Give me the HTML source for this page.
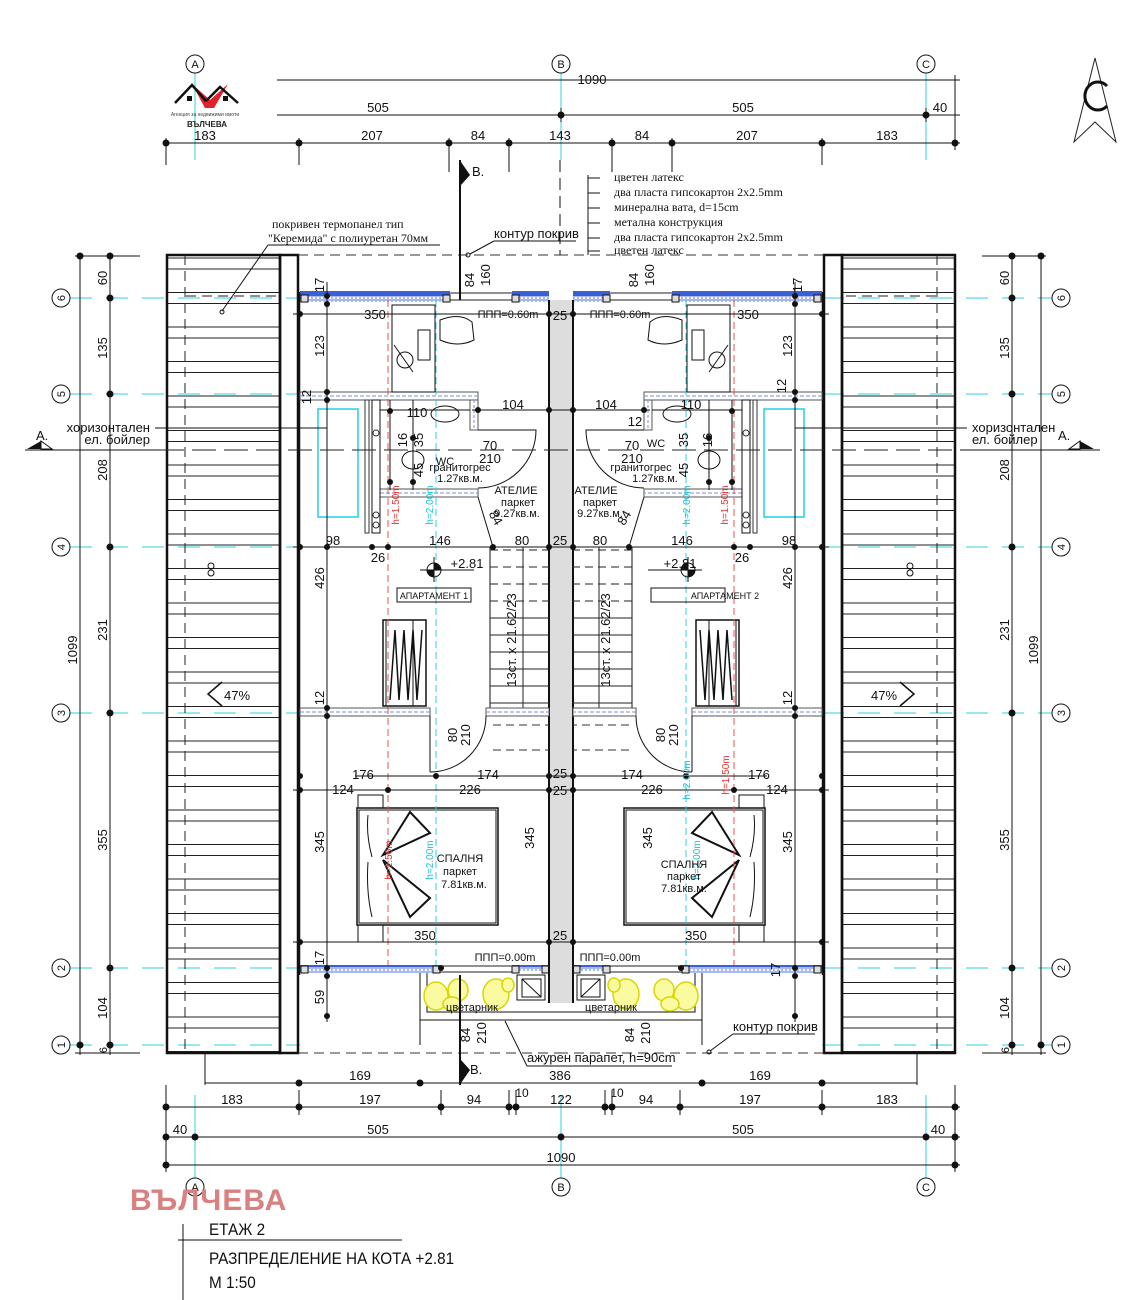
<!DOCTYPE html>
<html><head><meta charset="utf-8"><style>
html,body{margin:0;padding:0;background:#fff;}
svg{display:block;font-family:"Liberation Sans",sans-serif;}
.t{font-size:13px;fill:#111;}
.s{font-size:11px;fill:#111;}
.sr{font-family:"Liberation Serif",serif;font-size:12px;fill:#111;}
</style></head><body>
<svg width="1141" height="1300" viewBox="0 0 1141 1300" xmlns="http://www.w3.org/2000/svg">
<defs>
<pattern id="hatch" patternUnits="userSpaceOnUse" width="200" height="34.5" y="568">
<line x1="0" y1="0.5" x2="200" y2="0.5" stroke="#222" stroke-width="1"/>
<line x1="0" y1="11.5" x2="200" y2="11.5" stroke="#222" stroke-width="1"/>
</pattern>
<pattern id="dots" patternUnits="userSpaceOnUse" width="4" height="4">
<rect width="4" height="4" fill="#aab8f0"/><rect x="1" y="1" width="2" height="2" fill="#fff"/>
</pattern>
<g id="half">
 <rect x="167" y="255" width="113" height="798" fill="url(#hatch)" stroke="#111" stroke-width="2.5"/>
 <line x1="185" y1="255" x2="185" y2="1053" stroke="#222" stroke-dasharray="10,6"/>
 <rect x="280" y="255" width="18" height="798" fill="none" stroke="#111" stroke-width="2.5"/>
 <line x1="186" y1="296" x2="280" y2="296" stroke="#222" stroke-dasharray="10,6"/>
 <line x1="298" y1="255" x2="561" y2="255" stroke="#333" stroke-dasharray="10,6"/>
 <line x1="298" y1="1053" x2="561" y2="1053" stroke="#333" stroke-dasharray="10,6"/>
 <rect x="300" y="291" width="150" height="5" fill="#3b5fd6"/>
 <rect x="300" y="296" width="150" height="6" fill="url(#dots)"/>
 <rect x="512" y="291" width="37" height="5" fill="#3b5fd6"/>
 <rect x="512" y="296" width="37" height="6" fill="url(#dots)"/>
 <line x1="450" y1="293" x2="512" y2="293" stroke="#222"/><line x1="450" y1="300" x2="512" y2="300" stroke="#222"/>
 <rect x="301" y="295" width="7" height="7" fill="#ddd" stroke="#111"/>
 <rect x="443" y="295" width="7" height="7" fill="#ddd" stroke="#111"/>
 <rect x="512" y="295" width="7" height="7" fill="#ddd" stroke="#111"/>
 <rect x="300" y="965" width="140" height="5" fill="#3b5fd6"/>
 <rect x="300" y="967" width="140" height="6" fill="url(#dots)"/>
 <rect x="512" y="965" width="37" height="5" fill="#3b5fd6"/>
 <rect x="512" y="967" width="37" height="4" fill="url(#dots)"/>
 <line x1="440" y1="966" x2="512" y2="966" stroke="#222"/><line x1="440" y1="972" x2="512" y2="972" stroke="#222"/>
 <rect x="301" y="966" width="7" height="7" fill="#ddd" stroke="#111"/>
 <rect x="433" y="966" width="7" height="7" fill="#ddd" stroke="#111"/>
 <rect x="512" y="966" width="7" height="7" fill="#ddd" stroke="#111"/>
 <rect x="542" y="966" width="7" height="7" fill="#ddd" stroke="#111"/>
 <line x1="299" y1="292" x2="299" y2="975" stroke="#111" stroke-width="2.5"/>
 <path d="M420 973 V1020 H561" fill="none" stroke="#111"/>
 <path d="M427 973 V1012 H561" fill="none" stroke="#111"/>
 <g fill="#fafaa0" stroke="#d8d800" stroke-width="1.5">
  <ellipse cx="436" cy="996" rx="12" ry="14"/><ellipse cx="458" cy="990" rx="10" ry="11"/><ellipse cx="452" cy="1004" rx="9" ry="7"/><ellipse cx="496" cy="994" rx="13" ry="15"/><ellipse cx="508" cy="985" rx="6" ry="7"/>
 </g>
 <rect x="517" y="975" width="28" height="25" fill="#fff" stroke="#111"/>
 <rect x="522" y="979" width="19" height="18" fill="none" stroke="#111"/>
 <line x1="522" y1="979" x2="541" y2="997" stroke="#111"/>
 <rect x="300" y="392" width="178" height="8" fill="#fff" stroke="#555"/>
 <line x1="300" y1="396" x2="478" y2="396" stroke="#7a8ee0" stroke-dasharray="4,2"/>
 <rect x="470" y="400" width="8" height="30" fill="#fff" stroke="#555"/>
 <line x1="474" y1="400" x2="474" y2="430" stroke="#7a8ee0" stroke-dasharray="3,2"/>
 <rect x="380" y="489" width="98" height="8" fill="#fff" stroke="#555"/>
 <line x1="380" y1="493" x2="478" y2="493" stroke="#7a8ee0" stroke-dasharray="4,2"/>
 <rect x="372" y="400" width="8" height="133" fill="#fff" stroke="#111"/>
 <rect x="365" y="400" width="4" height="133" fill="none" stroke="#333"/>
 <circle cx="376" cy="433" r="3" fill="none" stroke="#333"/><circle cx="376" cy="515" r="3" fill="none" stroke="#333"/><circle cx="376" cy="525" r="3" fill="none" stroke="#333"/>
 <rect x="318" y="409" width="40" height="108" fill="none" stroke="#22d0e0" stroke-width="1.5"/>
 <path d="M478 430 H536 A58 58 0 0 1 478 488" fill="none" stroke="#111"/>
 <ellipse cx="445" cy="414" rx="14" ry="8" fill="none" stroke="#111"/>
 <ellipse cx="413" cy="460" rx="11" ry="9" fill="none" stroke="#111"/>
 <line x1="478" y1="497" x2="493" y2="547" stroke="#111"/>
 <rect x="392" y="305" width="43" height="87" fill="none" stroke="#111"/>
 <rect x="418" y="330" width="12" height="30" fill="none" stroke="#111"/>
 <line x1="394" y1="345" x2="413" y2="372" stroke="#111"/><circle cx="405" cy="360" r="8" fill="none" stroke="#111"/>
 <path d="M440 320 Q460 312 472 322 L474 340 Q458 348 440 340 Z" fill="none" stroke="#111"/>
 <rect x="549" y="300" width="12" height="703" fill="#ddd"/>
 <line x1="549" y1="300" x2="549" y2="1003" stroke="#111" stroke-width="2"/>
 <rect x="490" y="547" width="59" height="161" fill="none" stroke="#111"/>
 <g stroke="#222">
  <line x1="490" y1="550" x2="549" y2="550" stroke-dasharray="8,5"/>
  <line x1="490" y1="567" x2="549" y2="567" stroke-dasharray="8,5"/>
  <line x1="490" y1="584" x2="549" y2="584" stroke-dasharray="8,5"/>
  <line x1="490" y1="601" x2="549" y2="601" stroke-dasharray="8,5"/>
  <line x1="490" y1="618" x2="549" y2="618"/><line x1="490" y1="635" x2="549" y2="635"/>
  <line x1="490" y1="652" x2="549" y2="652"/><line x1="490" y1="669" x2="549" y2="669"/>
  <line x1="490" y1="686" x2="549" y2="686"/><line x1="490" y1="703" x2="549" y2="703"/>
  <line x1="523" y1="547" x2="523" y2="708"/>
 </g>
 <line x1="493" y1="725" x2="549" y2="725" stroke="#333" stroke-dasharray="8,5"/>
 <line x1="493" y1="750" x2="549" y2="750" stroke="#333" stroke-dasharray="8,5"/>
 <rect x="300" y="708" width="130" height="8" fill="#fff" stroke="#555"/>
 <line x1="300" y1="712" x2="430" y2="712" stroke="#7a8ee0" stroke-dasharray="4,2"/>
 <rect x="486" y="708" width="63" height="8" fill="#fff" stroke="#555"/>
 <line x1="486" y1="712" x2="549" y2="712" stroke="#7a8ee0" stroke-dasharray="4,2"/>
 <line x1="430" y1="716" x2="430" y2="772" stroke="#111"/>
 <path d="M430 772 A56 56 0 0 0 486 716" fill="none" stroke="#111"/>
 <rect x="383" y="620" width="43" height="86" fill="none" stroke="#111" stroke-width="1.5"/>
 <line x1="386" y1="620" x2="386" y2="706" stroke="#111"/><line x1="413" y1="620" x2="413" y2="706" stroke="#111"/>
 <polyline points="390,700 395,630 399,700 404,630 408,700 413,630 417,700 422,630" fill="none" stroke="#111" stroke-width="1.5"/>
 <rect x="357" y="808" width="141" height="117" fill="none" stroke="#111" stroke-width="1.5"/>
 <rect x="359" y="810" width="137" height="113" fill="none" stroke="#111"/>
 <rect x="358" y="795" width="25" height="13" fill="none" stroke="#111"/>
 <rect x="358" y="925" width="25" height="17" fill="none" stroke="#111"/>
 <path d="M368 815 Q366 835 372 857 M368 862 Q366 892 372 917" fill="none" stroke="#111"/>
 <polygon points="383,855 410,812 430,833" fill="none" stroke="#111" stroke-width="2"/>
 <polygon points="383,860 430,898 410,917" fill="none" stroke="#111" stroke-width="2"/>
 <line x1="388" y1="300" x2="388" y2="965" stroke="#e85050" stroke-dasharray="7,4"/>
 <line x1="436" y1="300" x2="436" y2="965" stroke="#30d0e0" stroke-dasharray="7,4"/>
 <g stroke="#111" stroke-width="1">
  <line x1="327" y1="282" x2="327" y2="1022"/>
  <line x1="293" y1="314" x2="561" y2="314"/>
  <line x1="472" y1="410" x2="561" y2="410"/>
  <line x1="380" y1="410" x2="470" y2="410"/>
  <line x1="293" y1="547" x2="561" y2="547"/>
  <line x1="355" y1="776" x2="561" y2="776"/>
  <line x1="293" y1="790" x2="561" y2="790"/>
  <line x1="293" y1="942" x2="561" y2="942"/>
  <line x1="390" y1="400" x2="390" y2="490" />
  <line x1="413" y1="400" x2="413" y2="490"/>
  <line x1="420" y1="1020" x2="420" y2="1045"/>
 </g>
 <g fill="#111">
  <circle cx="327" cy="296" r="3"/><circle cx="327" cy="304" r="3"/><circle cx="327" cy="392" r="3"/><circle cx="327" cy="400" r="3"/>
  <circle cx="327" cy="547" r="3"/><circle cx="327" cy="708" r="3"/><circle cx="327" cy="716" r="3"/><circle cx="327" cy="968" r="3"/><circle cx="327" cy="976" r="3"/><circle cx="327" cy="1016" r="3"/>
  <circle cx="300" cy="314" r="3"/><circle cx="549" cy="314" r="3"/><circle cx="300" cy="547" r="3"/><circle cx="549" cy="547" r="3"/><circle cx="549" cy="410" r="3"/><circle cx="478" cy="410" r="3"/>
  <circle cx="372" cy="547" r="3"/><circle cx="388" cy="547" r="3"/><circle cx="493" cy="547" r="3"/>
  <circle cx="436" cy="776" r="3"/><circle cx="549" cy="776" r="3"/><circle cx="549" cy="790" r="3"/><circle cx="300" cy="790" r="3"/><circle cx="388" cy="790" r="3"/>
  <circle cx="300" cy="942" r="3"/><circle cx="549" cy="942" r="3"/><circle cx="300" cy="776" r="3"/>
  <circle cx="390" cy="411" r="3"/><circle cx="413" cy="438" r="3"/><circle cx="413" cy="482" r="3"/><circle cx="390" cy="482" r="3"/>
  <circle cx="441" cy="968" r="3"/>
 </g>
 <circle cx="434" cy="570" r="7" fill="none" stroke="#111"/>
 <path d="M434 570 V563 A7 7 0 0 1 441 570 Z M434 570 V577 A7 7 0 0 1 427 570 Z" fill="#111"/>
 <line x1="420" y1="570" x2="474" y2="570" stroke="#111"/><line x1="434" y1="557" x2="434" y2="582" stroke="#111"/>
 <rect x="397" y="588" width="74" height="14" fill="none" stroke="#111"/>
</g>
</defs>

<g stroke="#30d0e0" stroke-width="1">
 <g stroke-dasharray="22,14">
  <line x1="70" y1="298" x2="300" y2="298"/><line x1="70" y1="394" x2="300" y2="394"/><line x1="70" y1="547" x2="300" y2="547"/>
  <line x1="70" y1="713" x2="300" y2="713"/><line x1="70" y1="968" x2="300" y2="968"/><line x1="70" y1="1045" x2="300" y2="1045"/>
  <line x1="822" y1="298" x2="1052" y2="298"/><line x1="822" y1="394" x2="1052" y2="394"/><line x1="822" y1="547" x2="1052" y2="547"/>
  <line x1="822" y1="713" x2="1052" y2="713"/><line x1="822" y1="968" x2="1052" y2="968"/><line x1="822" y1="1045" x2="1052" y2="1045"/>
 </g>
 <line x1="195" y1="73" x2="195" y2="160"/><line x1="561" y1="73" x2="561" y2="160"/><line x1="926" y1="73" x2="926" y2="160"/>
 <line x1="195" y1="1095" x2="195" y2="1178"/><line x1="561" y1="1095" x2="561" y2="1178"/><line x1="926" y1="1095" x2="926" y2="1178"/>
</g>

<use href="#half"/>
<use href="#half" transform="translate(1122,0) scale(-1,1)"/>

<line x1="560" y1="160" x2="560" y2="255" stroke="#111" stroke-dasharray="12,6"/>
<line x1="460" y1="160" x2="460" y2="300" stroke="#111" stroke-width="2"/>
<line x1="460" y1="975" x2="460" y2="1085" stroke="#111" stroke-width="2"/>

<line x1="25" y1="450" x2="160" y2="450" stroke="#111"/>
<line x1="160" y1="450" x2="960" y2="450" stroke="#222" stroke-dasharray="24,8"/>
<line x1="960" y1="450" x2="1100" y2="450" stroke="#111"/>
<polygon points="27,449 41,441 41,449" fill="#111"/><polygon points="41,441 52,449 41,449" fill="none" stroke="#111"/>
<polygon points="1094,449 1080,441 1080,449" fill="#111"/><polygon points="1080,441 1069,449 1080,449" fill="none" stroke="#111"/>
<text x="36" y="440" class="t">A.</text><text x="1058" y="440" class="t">A.</text>
<line x1="155" y1="428" x2="327" y2="428" stroke="#111"/><line x1="795" y1="428" x2="967" y2="428" stroke="#111"/>
<text x="150" y="432" class="t" text-anchor="end">хоризонтален</text><text x="150" y="444" class="t" text-anchor="end">ел. бойлер</text>
<text x="972" y="432" class="t">хоризонтален</text><text x="972" y="444" class="t">ел. бойлер</text>

<g stroke="#111" stroke-width="1" fill="#111">
 <line x1="277" y1="80" x2="960" y2="80"/>
 <line x1="277" y1="115" x2="960" y2="115"/>
 <line x1="166" y1="143" x2="960" y2="143"/>
 <line x1="561" y1="108" x2="561" y2="122"/><line x1="926" y1="108" x2="926" y2="122"/><line x1="955" y1="75" x2="955" y2="150"/>
 <circle cx="561" cy="115" r="3"/><circle cx="926" cy="115" r="3"/>
 <line x1="166" y1="138" x2="166" y2="165"/><line x1="299" y1="138" x2="299" y2="165"/><line x1="449" y1="138" x2="449" y2="172"/><line x1="509" y1="138" x2="509" y2="172"/><line x1="612" y1="138" x2="612" y2="172"/><line x1="672" y1="138" x2="672" y2="172"/><line x1="822" y1="138" x2="822" y2="165"/>
 <circle cx="166" cy="143" r="3"/><circle cx="299" cy="143" r="3"/><circle cx="449" cy="143" r="3"/><circle cx="509" cy="143" r="3"/><circle cx="612" cy="143" r="3"/><circle cx="672" cy="143" r="3"/><circle cx="822" cy="143" r="3"/><circle cx="955" cy="143" r="3"/>
 <line x1="205" y1="1083" x2="917" y2="1083"/>
 <line x1="205" y1="1053" x2="205" y2="1085"/><line x1="917" y1="1053" x2="917" y2="1085"/>
 <circle cx="299" cy="1083" r="3"/><circle cx="420" cy="1083" r="3"/><circle cx="702" cy="1083" r="3"/><circle cx="822" cy="1083" r="3"/>
 <line x1="166" y1="1107" x2="960" y2="1107"/>
 <line x1="166" y1="1137" x2="960" y2="1137"/>
 <line x1="166" y1="1165" x2="960" y2="1165"/>
 <line x1="166" y1="1085" x2="166" y2="1172"/><line x1="955" y1="1085" x2="955" y2="1172"/>
 <circle cx="166" cy="1107" r="3"/><circle cx="299" cy="1107" r="3"/><circle cx="441" cy="1107" r="3"/><circle cx="509" cy="1107" r="3"/><circle cx="516" cy="1107" r="3"/><circle cx="605" cy="1107" r="3"/><circle cx="612" cy="1107" r="3"/><circle cx="680" cy="1107" r="3"/><circle cx="822" cy="1107" r="3"/><circle cx="955" cy="1107" r="3"/>
 <circle cx="166" cy="1137" r="3"/><circle cx="195" cy="1137" r="3"/><circle cx="561" cy="1137" r="3"/><circle cx="926" cy="1137" r="3"/><circle cx="955" cy="1137" r="3"/><circle cx="166" cy="1165" r="3"/><circle cx="955" cy="1165" r="3"/>
 <line x1="509" y1="1090" x2="509" y2="1115"/><line x1="516" y1="1090" x2="516" y2="1115"/><line x1="605" y1="1090" x2="605" y2="1115"/><line x1="612" y1="1090" x2="612" y2="1115"/><line x1="299" y1="1090" x2="299" y2="1115"/><line x1="441" y1="1090" x2="441" y2="1115"/><line x1="680" y1="1090" x2="680" y2="1115"/><line x1="822" y1="1090" x2="822" y2="1115"/>
 <line x1="80" y1="256" x2="80" y2="1055"/><line x1="110" y1="256" x2="110" y2="1055"/>
 <line x1="1012" y1="256" x2="1012" y2="1055"/><line x1="1041" y1="256" x2="1041" y2="1055"/>
 <line x1="75" y1="256" x2="140" y2="256"/><line x1="75" y1="1053" x2="140" y2="1053"/>
 <line x1="982" y1="256" x2="1046" y2="256"/><line x1="982" y1="1053" x2="1046" y2="1053"/>
 <circle cx="80" cy="256" r="3"/><circle cx="110" cy="256" r="3"/><circle cx="1012" cy="256" r="3"/><circle cx="1041" cy="256" r="3"/>
 <circle cx="80" cy="1045" r="3"/><circle cx="110" cy="1045" r="3"/><circle cx="1012" cy="1045" r="3"/><circle cx="1041" cy="1045" r="3"/>
 <circle cx="110" cy="298" r="3"/><circle cx="110" cy="394" r="3"/><circle cx="110" cy="547" r="3"/><circle cx="110" cy="713" r="3"/><circle cx="110" cy="968" r="3"/>
 <circle cx="1012" cy="298" r="3"/><circle cx="1012" cy="394" r="3"/><circle cx="1012" cy="547" r="3"/><circle cx="1012" cy="713" r="3"/><circle cx="1012" cy="968" r="3"/>
</g>
<g fill="#fff" stroke="#111">
 <circle cx="195" cy="64" r="9"/><circle cx="561" cy="64" r="9"/><circle cx="926" cy="64" r="9"/>
 <circle cx="195" cy="1187" r="9"/><circle cx="561" cy="1187" r="9"/><circle cx="926" cy="1187" r="9"/>
 <circle cx="61" cy="298" r="9"/><circle cx="61" cy="394" r="9"/><circle cx="61" cy="547" r="9"/><circle cx="61" cy="713" r="9"/><circle cx="61" cy="968" r="9"/><circle cx="61" cy="1045" r="9"/>
 <circle cx="1061" cy="298" r="9"/><circle cx="1061" cy="394" r="9"/><circle cx="1061" cy="547" r="9"/><circle cx="1061" cy="713" r="9"/><circle cx="1061" cy="968" r="9"/><circle cx="1061" cy="1045" r="9"/>
</g>
<g class="s" text-anchor="middle" font-size="11">
 <text x="195" y="68" class="s">A</text><text x="561" y="68" class="s">B</text><text x="926" y="68" class="s">C</text>
 <text x="195" y="1191" class="s">A</text><text x="561" y="1191" class="s">B</text><text x="926" y="1191" class="s">C</text>
 <text transform="translate(65,298) rotate(-90)" class="s">6</text><text transform="translate(65,394) rotate(-90)" class="s">5</text><text transform="translate(65,547) rotate(-90)" class="s">4</text><text transform="translate(65,713) rotate(-90)" class="s">3</text><text transform="translate(65,968) rotate(-90)" class="s">2</text><text transform="translate(65,1045) rotate(-90)" class="s">1</text>
 <text transform="translate(1065,298) rotate(-90)" class="s">6</text><text transform="translate(1065,394) rotate(-90)" class="s">5</text><text transform="translate(1065,547) rotate(-90)" class="s">4</text><text transform="translate(1065,713) rotate(-90)" class="s">3</text><text transform="translate(1065,968) rotate(-90)" class="s">2</text><text transform="translate(1065,1045) rotate(-90)" class="s">1</text>
</g>

<g class="t" text-anchor="middle">
 <text x="592" y="84">1090</text>
 <text x="378" y="112">505</text><text x="743" y="112">505</text><text x="940" y="112">40</text>
 <text x="205" y="140">183</text><text x="372" y="140">207</text><text x="478" y="140">84</text><text x="560" y="140">143</text><text x="642" y="140">84</text><text x="747" y="140">207</text><text x="887" y="140">183</text>
 <text x="360" y="1080">169</text><text x="560" y="1080">386</text><text x="760" y="1080">169</text>
 <text x="232" y="1104">183</text><text x="370" y="1104">197</text><text x="474" y="1104">94</text><text x="522" y="1097" font-size="12">10</text><text x="561" y="1104">122</text><text x="617" y="1097" font-size="12">10</text><text x="646" y="1104">94</text><text x="750" y="1104">197</text><text x="887" y="1104">183</text>
 <text x="180" y="1134">40</text><text x="378" y="1134">505</text><text x="743" y="1134">505</text><text x="938" y="1134">40</text>
 <text x="561" y="1162">1090</text>
</g>
<g class="t" text-anchor="middle">
 <text transform="translate(107,278) rotate(-90)">60</text><text transform="translate(107,348) rotate(-90)">135</text><text transform="translate(107,470) rotate(-90)">208</text><text transform="translate(107,630) rotate(-90)">231</text><text transform="translate(107,840) rotate(-90)">355</text><text transform="translate(107,1008) rotate(-90)">104</text><text transform="translate(107,1050) rotate(-90)" font-size="11">6</text>
 <text transform="translate(77,650) rotate(-90)">1099</text>
 <text transform="translate(1009,278) rotate(-90)">60</text><text transform="translate(1009,348) rotate(-90)">135</text><text transform="translate(1009,470) rotate(-90)">208</text><text transform="translate(1009,630) rotate(-90)">231</text><text transform="translate(1009,840) rotate(-90)">355</text><text transform="translate(1009,1008) rotate(-90)">104</text><text transform="translate(1009,1050) rotate(-90)" font-size="11">6</text>
 <text transform="translate(1038,650) rotate(-90)">1099</text>
 <text transform="translate(324,285) rotate(-90)">17</text><text transform="translate(324,346) rotate(-90)">123</text><text transform="translate(311,397) rotate(-90)">12</text><text transform="translate(324,578) rotate(-90)">426</text><text transform="translate(324,698) rotate(-90)">12</text><text transform="translate(324,842) rotate(-90)">345</text><text transform="translate(324,958) rotate(-90)">17</text><text transform="translate(324,997) rotate(-90)">59</text>
 <text transform="translate(534,838) rotate(-90)">345</text>
 <text transform="translate(474,280) rotate(-90)">84</text><text transform="translate(490,275) rotate(-90)">160</text>
 <text transform="translate(470,1035) rotate(-90)">84</text><text transform="translate(486,1033) rotate(-90)">210</text>
 <text transform="translate(457,735) rotate(-90)">80</text><text transform="translate(470,735) rotate(-90)">210</text>
 <text transform="translate(407,440) rotate(-90)">16</text><text transform="translate(423,440) rotate(-90)">35</text><text transform="translate(423,470) rotate(-90)">45</text>
 <text transform="translate(492,520) rotate(60)">84</text>
 <text transform="translate(516,640) rotate(-90)">13ст. x 21.62/23</text>
 <text transform="translate(802,285) rotate(-90)">17</text><text transform="translate(792,346) rotate(-90)">123</text><text transform="translate(786,386) rotate(-90)">12</text><text transform="translate(792,578) rotate(-90)">426</text><text transform="translate(792,698) rotate(-90)">12</text><text transform="translate(792,842) rotate(-90)">345</text><text transform="translate(780,970) rotate(-90)">17</text>
 <text transform="translate(652,838) rotate(-90)">345</text>
 <text transform="translate(638,280) rotate(-90)">84</text><text transform="translate(654,275) rotate(-90)">160</text>
 <text transform="translate(634,1035) rotate(-90)">84</text><text transform="translate(650,1033) rotate(-90)">210</text>
 <text transform="translate(665,735) rotate(-90)">80</text><text transform="translate(678,735) rotate(-90)">210</text>
 <text transform="translate(688,440) rotate(-90)">35</text><text transform="translate(688,470) rotate(-90)">45</text><text transform="translate(712,440) rotate(-90)">16</text>
 <text transform="translate(628,520) rotate(-60)">84</text>
 <text transform="translate(610,640) rotate(-90)">13ст. x 21.62/23</text>
</g>
<g font-size="10" text-anchor="middle">
 <text transform="translate(399,505) rotate(-90)" fill="#e03030">h=1.50m</text>
 <text transform="translate(433,505) rotate(-90)" fill="#20c0d0">h=2.00m</text>
 <text transform="translate(728,505) rotate(-90)" fill="#e03030">h=1.50m</text>
 <text transform="translate(690,505) rotate(-90)" fill="#20c0d0">h=2.00m</text>
 <text transform="translate(729,775) rotate(-90)" fill="#e03030">h=1.50m</text>
 <text transform="translate(690,780) rotate(-90)" fill="#20c0d0">h=2.00m</text>
 <text transform="translate(392,860) rotate(-90)" fill="#e03030">h=1.50m</text>
 <text transform="translate(433,860) rotate(-90)" fill="#20c0d0">h=2.00m</text>
 <text transform="translate(700,860) rotate(-90)" fill="#20c0d0">h=2.00m</text>
</g>
<g class="t" text-anchor="middle">
 <text x="375" y="319">350</text><text x="748" y="319">350</text>
 <text x="560" y="320">25</text><text x="560" y="545">25</text><text x="560" y="778">25</text><text x="560" y="795">25</text><text x="560" y="940">25</text>
 <text x="513" y="409">104</text><text x="606" y="409">104</text>
 <text x="417" y="417">110</text><text x="691" y="409">110</text><text x="635" y="426">12</text>
 <text x="490" y="450">70</text><text x="490" y="463">210</text><text x="632" y="450">70</text><text x="632" y="463">210</text>
 <text x="333" y="545">98</text><text x="440" y="545">146</text><text x="522" y="545">80</text>
 <text x="789" y="545">98</text><text x="682" y="545">146</text><text x="600" y="545">80</text>
 <text x="378" y="562">26</text><text x="742" y="562">26</text>
 <text x="363" y="779">176</text><text x="488" y="779">174</text><text x="632" y="779">174</text><text x="759" y="779">176</text>
 <text x="343" y="794">124</text><text x="470" y="794">226</text><text x="652" y="794">226</text><text x="777" y="794">124</text>
 <text x="425" y="940">350</text><text x="696" y="940">350</text>
 <text x="467" y="568">+2.81</text><text x="680" y="568">+2.81</text>
</g>
<g font-size="11" fill="#111" text-anchor="middle">
 <text x="508" y="318">ППП=0.60m</text><text x="620" y="318">ППП=0.60m</text>
 <text x="505" y="961">ППП=0.00m</text><text x="610" y="961">ППП=0.00m</text>
 <text x="445" y="465">WC</text><text x="460" y="471">гранитогрес</text><text x="460" y="482">1.27кв.м.</text>
 <text x="656" y="447">WC</text><text x="641" y="471">гранитогрес</text><text x="655" y="482">1.27кв.м.</text>
 <text x="516" y="494">АТЕЛИЕ</text><text x="518" y="506">паркет</text><text x="517" y="517">9.27кв.м.</text>
 <text x="596" y="494">АТЕЛИЕ</text><text x="600" y="506">паркет</text><text x="600" y="517">9.27кв.м.</text>
 <text x="460" y="862">СПАЛНЯ</text><text x="460" y="875">паркет</text><text x="464" y="888">7.81кв.м.</text>
 <text x="684" y="868">СПАЛНЯ</text><text x="684" y="880">паркет</text><text x="684" y="892">7.81кв.м.</text>
 <text x="434" y="599" font-size="9">АПАРТАМЕНТ 1</text><text x="725" y="599" font-size="9">АПАРТАМЕНТ 2</text>
 <text x="472" y="1011">цветарник</text><text x="611" y="1011">цветарник</text>
 <text x="237" y="700" font-size="13">47%</text><text x="884" y="700" font-size="13">47%</text>
</g>
<polyline points="222,682 208,694 222,706" fill="none" stroke="#111" stroke-width="1.5"/>
<polyline points="900,682 914,694 900,706" fill="none" stroke="#111" stroke-width="1.5"/>
<g fill="none" stroke="#111"><circle cx="211" cy="566" r="3"/><circle cx="211" cy="573" r="3"/><circle cx="910" cy="566" r="3"/><circle cx="910" cy="573" r="3"/></g>
<polygon points="461,162 461,185 470,175" fill="#111"/><text x="472" y="176" class="t">B.</text>
<polygon points="461,1060 461,1083 470,1070" fill="#111"/><text x="470" y="1074" class="t">B.</text>
<g class="sr">
 <text x="614" y="181">цветен латекс</text><text x="614" y="196">два пласта гипсокартон 2x2.5mm</text><text x="614" y="211">минерална вата, d=15cm</text><text x="614" y="226">метална конструкция</text><text x="614" y="241">два пласта гипсокартон 2x2.5mm</text><text x="614" y="254">цветен латекс</text>
 <text x="272" y="228">покривен термопанел тип</text><text x="268" y="242">"Керемида" с полиуретан 70мм</text>
</g>
<g stroke="#111" fill="none">
 <path d="M588 175 V255 M588 178 H600 M588 193 H600 M588 208 H600 M588 223 H600 M588 238 H600 M588 251 H600"/>
 <path d="M268 245 H440 M268 245 L222 311"/><circle cx="222" cy="312" r="2"/>
 <path d="M494 241 H576 M494 241 L470 254"/><circle cx="468" cy="255" r="2"/>
 <path d="M733 1034 H815 M733 1034 L710 1051"/><circle cx="709" cy="1052" r="2"/>
 <path d="M527 1066 H672 M527 1066 L505 1021"/>
</g>
<text x="494" y="238" class="t">контур покрив</text>
<text x="733" y="1031" class="t">контур покрив</text>
<text x="527" y="1062" class="t">ажурен парапет, h=90cm</text>
<polygon points="192,84 210,100 228,84 214,108 205,108" fill="#e0202a"/>
<path d="M175 103 L192 85 L206 101 M206 101 L220 87 L238 103" fill="none" stroke="#111" stroke-width="2.5"/>
<rect x="187" y="96" width="5" height="5" fill="#111"/><rect x="223" y="96" width="5" height="5" fill="#111"/>
<text x="205" y="116" font-size="5" text-anchor="middle" fill="#444">Агенция за недвижими имоти</text>
<text x="207" y="127" font-size="8" font-weight="bold" text-anchor="middle" fill="#222">ВЪЛЧЕВА</text>
<polygon points="1095,58 1074,142 1095,122 1116,142" fill="none" stroke="#222"/>
<path d="M1107 86 A13 14 0 1 0 1107 106" fill="none" stroke="#111" stroke-width="3"/>
<text x="130" y="1210" font-size="30" font-weight="bold" fill="#d98080" letter-spacing="1">ВЪЛЧЕВА</text>
<line x1="183" y1="1224" x2="183" y2="1300" stroke="#111"/>
<line x1="178" y1="1240" x2="402" y2="1240" stroke="#111"/>
<text x="209" y="1235" font-size="17" fill="#111" transform="translate(209,0) scale(0.9,1) translate(-209,0)">ЕТАЖ 2</text>
<text x="209" y="1264" font-size="17" fill="#111" transform="translate(209,0) scale(0.9,1) translate(-209,0)">РАЗПРЕДЕЛЕНИЕ НА КОТА +2.81</text>
<text x="209" y="1288" font-size="17" fill="#111" transform="translate(209,0) scale(0.9,1) translate(-209,0)">М 1:50</text>
</svg>
</body></html>
